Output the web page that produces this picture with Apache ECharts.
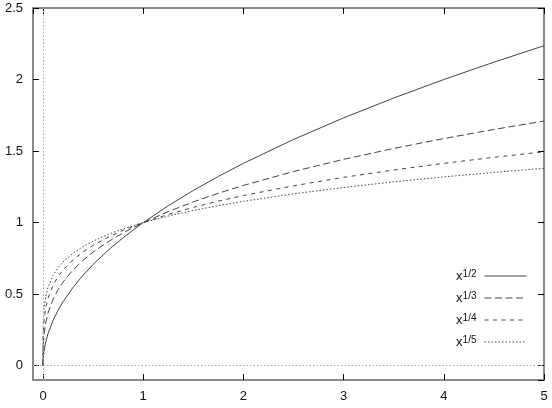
<!DOCTYPE html>
<html>
<head>
<meta charset="utf-8">
<script src="https://cdn.jsdelivr.net/npm/echarts@6/dist/echarts.min.js"></script>
<style>html,body{margin:0;padding:0;background:#fff}#c{width:552px;height:408px}</style>
</head>
<body>
<div id="c"></div>
<script>
var xs = [0, 0.002, 0.01, 0.025, 0.05, 0.1, 0.15, 0.2, 0.3, 0.4, 0.5, 0.6, 0.7, 0.8, 0.9, 1, 1.25, 1.5, 1.75, 2, 2.5, 3, 3.5, 4, 4.5, 5];
var ySqrt2 = [0, 0.0447, 0.1, 0.1581, 0.2236, 0.3162, 0.3873, 0.4472, 0.5477, 0.6325, 0.7071, 0.7746, 0.8367, 0.8944, 0.9487, 1, 1.1180, 1.2247, 1.3229, 1.4142, 1.5811, 1.7321, 1.8708, 2, 2.1213, 2.2361];
var yRoot3 = [0, 0.1260, 0.2154, 0.2924, 0.3684, 0.4642, 0.5313, 0.5848, 0.6694, 0.7368, 0.7937, 0.8434, 0.8879, 0.9283, 0.9655, 1, 1.0772, 1.1447, 1.2051, 1.2599, 1.3572, 1.4422, 1.5183, 1.5874, 1.6510, 1.7100];
var yRoot4 = [0, 0.2115, 0.3162, 0.3976, 0.4729, 0.5623, 0.6223, 0.6687, 0.7401, 0.7953, 0.8409, 0.8801, 0.9147, 0.9457, 0.9740, 1, 1.0574, 1.1067, 1.1502, 1.1892, 1.2574, 1.3161, 1.3678, 1.4142, 1.4565, 1.4953];
var yRoot5 = [0, 0.2885, 0.3981, 0.4782, 0.5493, 0.6310, 0.6843, 0.7248, 0.7860, 0.8326, 0.8706, 0.9029, 0.9312, 0.9564, 0.9791, 1, 1.0456, 1.0845, 1.1184, 1.1487, 1.2011, 1.2457, 1.2847, 1.3195, 1.3510, 1.3797];
var seriesNames = ['1/2', '1/3', '1/4', '1/5'];
var seriesValues = [ySqrt2, yRoot3, yRoot4, yRoot5];
var dashes = ['solid', [7, 3.5], [4, 4.5], [1.5, 2]];

var FONT = 'Liberation Sans, Arial, Helvetica, sans-serif';
var INK = '#444';
function pairs(ys) { return xs.map(function (x, i) { return [x, ys[i]]; }); }

var tickStyle = { show: true, inside: true, length: 6, lineStyle: { color: '#000', width: 1 } };
var lineAxis = { show: true, onZero: false, lineStyle: { color: '#8a8a8a', width: 2 } };
var labelStyle = { color: '#111', fontSize: 13, fontFamily: FONT, margin: 10, showMinLabel: false };

function xAx(pos, showLabel) {
  return { type: 'value', position: pos, min: -0.1, max: 5, splitNumber: 5, minInterval: 1, maxInterval: 1,
    axisLine: lineAxis, axisTick: tickStyle, splitLine: { show: false },
    axisLabel: Object.assign({ show: showLabel }, labelStyle) };
}
function yAx(pos, showLabel) {
  return { type: 'value', position: pos, min: -0.1, max: 2.5, splitNumber: 5, minInterval: 0.5, maxInterval: 0.5,
    axisLine: lineAxis, axisTick: tickStyle, splitLine: { show: false },
    axisLabel: Object.assign({ show: showLabel }, labelStyle) };
}

var series = seriesNames.map(function (n, i) {
  return { name: n, type: 'line', data: pairs(seriesValues[i]), symbol: 'none', showSymbol: false,
    lineStyle: { color: INK, width: 1, type: dashes[i] }, itemStyle: { color: INK }, z: 3 };
});
series.push({ name: 'zero', type: 'line', data: [], symbol: 'none', silent: true,
  markLine: { silent: true, symbol: ['none', 'none'], label: { show: false }, animation: false,
    lineStyle: { color: '#aaa', type: [1.5, 2], width: 1 },
    data: [{ xAxis: 0 }, { yAxis: 0 }] } });

var chart = echarts.init(document.getElementById('c'), null, { renderer: 'canvas' });
chart.setOption({
  animation: false,
  backgroundColor: '#fff',
  grid: { left: 33, right: 8, top: 8, bottom: 28, containLabel: false },
  xAxis: [xAx('bottom', true), xAx('top', false)],
  yAxis: [yAx('left', true), yAx('right', false)],
  legend: {
    data: seriesNames, orient: 'vertical', right: 20, top: 259, align: 'right',
    itemWidth: 42, itemHeight: 14, itemGap: -2, padding: 5,
    itemStyle: { color: 'rgba(0,0,0,0)', borderWidth: 0, opacity: 0 },
    lineStyle: { width: 1, color: INK },
    formatter: function (name) { return '{b|x}{s|' + name + '}'; },
    textStyle: {
      fontFamily: FONT, color: '#000',
      rich: {
        b: { fontSize: 13, fontFamily: FONT, color: '#111', lineHeight: 16, padding: [0, 0, 5, 0], verticalAlign: 'bottom' },
        s: { fontSize: 10, fontFamily: FONT, color: '#111', lineHeight: 24, padding: [5, 3, 0, 0], verticalAlign: 'top' }
      }
    }
  },
  series: series
});
</script>
</body>
</html>
